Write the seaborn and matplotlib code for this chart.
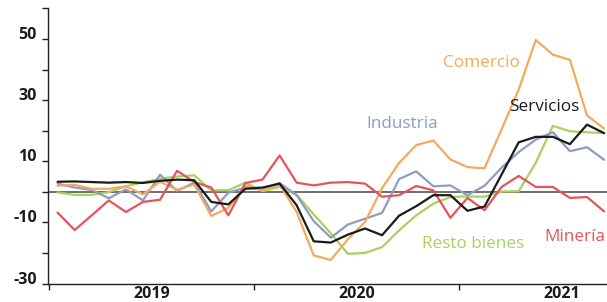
import numpy as np
import pandas as pd
import matplotlib
matplotlib.use("Agg")
import matplotlib.pyplot as plt
import matplotlib.transforms as mtransforms
import seaborn as sns

# ---- data (monthly, Jan 2019 .. Sep 2021) ----
meses = list(range(33))
comercio = [2.0, 2.3, 1.0, 1.0, 1.8, -0.8, 3.3, 0.7, 2.4, -7.9, -5.2, 2.1, 0.5, 2.4, -6.6,
            -20.8, -22.3, -15.5, -9.9, 1.2, 9.5, 15.3, 16.8, 10.6, 8.1, 7.7, 20.5, 33.5,
            49.7, 44.9, 43.2, 25.0, 20.7]
servicios = [3.3, 3.4, 3.2, 3.0, 3.2, 2.9, 3.6, 4.0, 3.8, -3.3, -4.1, 1.0, 1.4, 2.7, -4.4,
             -16.2, -16.6, -14.0, -12.0, -14.2, -7.8, -4.7, -1.1, -1.1, -6.2, -4.8, 5.7,
             16.2, 18.0, 18.0, 15.6, 22.0, 19.2]
industria = [2.7, 1.4, 0.6, -2.1, 0.8, -2.8, 5.6, 0.3, 3.0, -6.4, -0.3, 1.4, 0.7, 2.9, -1.1,
             -9.6, -15.0, -10.7, -8.8, -6.9, 4.2, 6.7, 1.8, 2.1, -1.1, 2.0, 7.9, 13.0, 17.1,
             19.5, 13.3, 14.6, 10.5]
mineria = [-6.8, -12.5, -7.7, -2.8, -6.6, -3.3, -2.6, 6.9, 3.2, 1.4, -7.7, 2.9, 4.0, 11.9,
           3.0, 2.1, 3.0, 3.2, 2.7, -1.6, -1.1, 1.9, 0.5, -8.5, -2.0, -6.0, 1.6, 5.2, 1.6,
           1.6, -2.0, -1.7, -6.4]
resto = [-0.2, -1.0, -1.0, -0.1, 1.8, 3.1, 4.3, 5.0, 5.4, 0.5, 0.5, 3.0, 0.2, 1.6, -1.0,
         -7.4, -13.6, -20.3, -20.0, -18.1, -12.6, -7.7, -3.9, -1.7, -1.5, -1.6, 0.1, 0.2,
         9.5, 21.6, 19.8, 19.5, 19.2]
series_names = ["Resto bienes", "Industria", "Comercio", "Minería", "Servicios"]
years = ["2019", "2020", "2021"]
ytick_vals = [-30, -20, -10, 0, 10, 20, 30, 40, 50, 60]
ytick_labels = ["-30", "", "-10", "", "10", "", "30", "", "50", ""]

colors = {"Comercio": "#F4AA5C", "Servicios": "#1A1A1A", "Industria": "#8F9CC2",
          "Minería": "#E5545A", "Resto bienes": "#A8D25E"}

df = pd.concat([
    pd.DataFrame({"mes": meses, "valor": v, "serie": n})
    for n, v in zip(series_names, [resto, industria, comercio, mineria, servicios])
])

sns.set_style("ticks")
plt.rcParams["font.family"] = ["Open Sans", "DejaVu Sans"]
plt.rcParams["axes.unicode_minus"] = False

fig = plt.figure(figsize=(6.07, 3.02), dpi=100)
ax = fig.add_axes([48 / 607, 18.5 / 302, 559 / 607, 275 / 302])

ax.axhline(0, color="#555555", lw=1.2, zorder=1)
sns.lineplot(data=df, x="mes", y="valor", hue="serie", hue_order=series_names,
             palette=colors, lw=1.6, legend=False, ax=ax, zorder=3)

ax.set_xlim(-0.56, 32.17)
ax.set_ylim(-30, 60)

# y axis
ax.set_yticks(ytick_vals)
ax.set_yticklabels(ytick_labels)
shift = mtransforms.ScaledTranslation(0, 2 / 100, fig.dpi_scale_trans)
for lab in ax.get_yticklabels():
    lab.set_verticalalignment("baseline")
    lab.set_transform(lab.get_transform() + shift)
    lab.set_fontsize(11.5)
    lab.set_fontweight("bold")
    lab.set_color("#1a1a1a")
ax.tick_params(axis="y", length=4, width=1, pad=4, color="#222222")

# x axis: year boundaries as minor ticks, labels at year centers
ax.set_xticks([-0.5, 11.5, 23.5], minor=True)
ax.set_xticks([5.5, 17.5, 29.5])
ax.set_xticklabels(years, fontsize=11.5, fontweight="bold", color="#1a1a1a")
ax.tick_params(axis="x", which="major", length=0, pad=1.5)
ax.tick_params(axis="x", which="minor", length=4, width=1, color="#222222")
ax.set_xlabel("")
ax.set_ylabel("")

for s in ["top", "right"]:
    ax.spines[s].set_visible(False)
for s in ["left", "bottom"]:
    ax.spines[s].set_color("#222222")
    ax.spines[s].set_linewidth(1.0)

lab_kw = dict(ha="left", va="center", fontsize=12.3)
ax.text(22.57, 42.1, "Comercio", color=colors["Comercio"], **lab_kw)
ax.text(26.43, 27.7, "Servicios", color=colors["Servicios"], **lab_kw)
ax.text(18.06, 22.1, "Industria", color=colors["Industria"], **lab_kw)
ax.text(21.34, -17.2, "Resto bienes", color=colors["Resto bienes"], **lab_kw)
ax.text(32.1, -14.9, "Minería", color=colors["Minería"], ha="right", va="center",
        fontsize=12.3)

fig.savefig("out.png", dpi=100)
